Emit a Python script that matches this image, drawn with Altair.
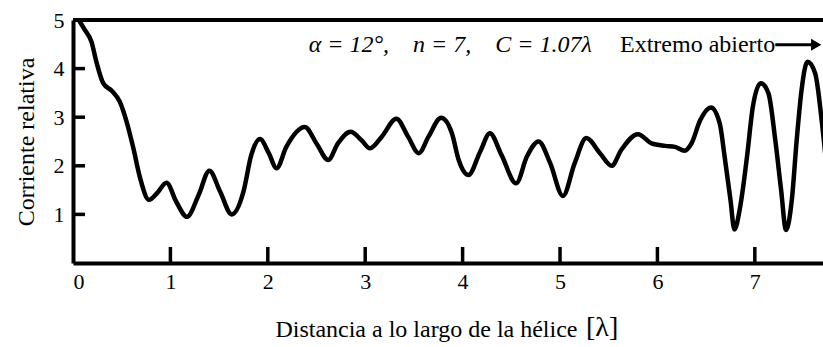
import altair as alt
import pandas as pd

# Relative current along the helix (distance in wavelengths)
dist = [0.06, 0.12, 0.19, 0.24, 0.31, 0.40, 0.48, 0.55, 0.62, 0.69,
        0.78, 0.86, 0.96, 1.06, 1.17, 1.29, 1.40, 1.51, 1.63, 1.75,
        1.83, 1.92, 2.01, 2.09, 2.19, 2.38, 2.50, 2.62, 2.72, 2.85,
        2.96, 3.05, 3.17, 3.32, 3.44, 3.55, 3.65, 3.78, 3.89, 3.96,
        4.06, 4.18, 4.28, 4.40, 4.55, 4.66, 4.78, 4.90, 5.03, 5.15,
        5.27, 5.41, 5.53, 5.63, 5.80, 5.94, 6.08, 6.18, 6.28, 6.35,
        6.44, 6.55, 6.64, 6.69, 6.75, 6.79, 6.85, 6.92, 6.98, 7.06,
        7.14, 7.21, 7.27, 7.32, 7.38, 7.43, 7.48, 7.54, 7.62, 7.69,
        7.74]
corr = [5.00, 4.80, 4.55, 4.14, 3.70, 3.54, 3.32, 2.91, 2.36, 1.74,
        1.30, 1.43, 1.65, 1.26, 0.95, 1.40, 1.90, 1.47, 1.00, 1.47,
        2.22, 2.55, 2.26, 1.95, 2.39, 2.80, 2.46, 2.12, 2.46, 2.70,
        2.53, 2.36, 2.60, 2.97, 2.60, 2.26, 2.60, 2.99, 2.67, 2.12,
        1.81, 2.29, 2.67, 2.22, 1.64, 2.19, 2.50, 2.05, 1.38, 2.05,
        2.57, 2.26, 2.00, 2.33, 2.65, 2.46, 2.41, 2.39, 2.31, 2.46,
        2.94, 3.20, 2.87, 2.19, 1.30, 0.69, 1.16, 2.19, 3.22, 3.70,
        3.49, 2.53, 1.50, 0.68, 1.30, 2.53, 3.56, 4.14, 3.90, 2.87,
        1.90]

x_labels = [0, 1, 2, 3, 4, 5, 6, 7]
y_labels = [1, 2, 3, 4, 5]
x_ticks = [1, 2, 3, 4, 5, 6, 7]
y_ticks = [1, 2, 3, 4]
top_edge = [5]

params_text = ["α = 12°,\u2003n = 7,\u2003C = 1.07λ"]
params_pos = [2.42, 4.49]
open_end_text = ["Extremo abierto"]
open_end_pos = [7.21, 4.49]
arrow_x = [7.21, 7.60]
arrow_head = [7.63, 4.49]

x_title = "Distancia a lo largo de la hélice"
x_title_unit = ["[λ]"]

FONT = "Liberation Serif"
W, H = 750, 243

xs = alt.Scale(domain=[0, 7.7], nice=False, zero=False)
ys = alt.Scale(domain=[0, 5], nice=False)

curve_df = pd.DataFrame({"dist": dist, "corr": corr})

curve = alt.Chart(curve_df).mark_line(
    color="black", strokeWidth=4.5, interpolate="monotone", clip=True,
    strokeJoin="round", strokeCap="round"
).encode(
    x=alt.X("dist:Q", scale=xs, axis=alt.Axis(
        values=x_labels, format="d", ticks=False, grid=False,
        domainColor="black", domainWidth=4,
        labelFont=FONT, labelFontSize=22, labelColor="black", labelPadding=8,
        title=x_title,
        titleFont=FONT, titleFontSize=24, titleFontWeight="normal",
        titleColor="black", titleX=504, titleY=73, titleAlign="right",
        titleAnchor="start", titleBaseline="alphabetic",
    )),
    y=alt.Y("corr:Q", scale=ys, axis=alt.Axis(
        values=y_labels, format="d", ticks=False, grid=False,
        domainColor="black", domainWidth=4,
        labelFont=FONT, labelFontSize=22, labelColor="black", labelPadding=9,
        title="Corriente relativa",
        titleFont=FONT, titleFontSize=24, titleFontWeight="normal",
        titleColor="black", titlePadding=15,
    )),
)

# Bracketed unit of the x title, set larger than the title text
unit = alt.Chart(pd.DataFrame({"t": x_title_unit})).mark_text(
    align="left", baseline="alphabetic", font=FONT, fontSize=28, color="black"
).encode(
    x=alt.value(513), y=alt.value(H + 73), text="t:N"
)

# Inward tick marks
xtick = alt.Chart(pd.DataFrame({"dist": x_ticks})).mark_rule(
    color="black", strokeWidth=3.5
).encode(
    x=alt.X("dist:Q", scale=xs),
    y=alt.value(H), y2=alt.value(H - 16),
)
ytick = alt.Chart(pd.DataFrame({"corr": y_ticks})).mark_rule(
    color="black", strokeWidth=3.5
).encode(
    y=alt.Y("corr:Q", scale=ys),
    x=alt.value(0), x2=alt.value(12),
)

# Upper frame line
top = alt.Chart(pd.DataFrame({"corr": top_edge})).mark_rule(
    color="black", strokeWidth=4
).encode(
    y=alt.Y("corr:Q", scale=ys),
    x=alt.value(0), x2=alt.value(W),
)

params = alt.Chart(pd.DataFrame({
    "dist": [params_pos[0]], "corr": [params_pos[1]], "t": params_text
})).mark_text(
    align="left", baseline="middle", font=FONT, fontStyle="italic",
    fontSize=24, color="black"
).encode(
    x=alt.X("dist:Q", scale=xs),
    y=alt.Y("corr:Q", scale=ys),
    text="t:N",
)

open_end = alt.Chart(pd.DataFrame({
    "dist": [open_end_pos[0]], "corr": [open_end_pos[1]], "t": open_end_text
})).mark_text(
    align="right", baseline="middle", font=FONT, fontSize=24, color="black"
).encode(
    x=alt.X("dist:Q", scale=xs),
    y=alt.Y("corr:Q", scale=ys),
    text="t:N",
)

arrow_line = alt.Chart(pd.DataFrame({
    "dist": [arrow_x[0]], "x2": [arrow_x[1]], "corr": [open_end_pos[1]]
})).mark_rule(color="black", strokeWidth=3).encode(
    x=alt.X("dist:Q", scale=xs),
    x2="x2:Q",
    y=alt.Y("corr:Q", scale=ys),
)

arrow_tip = alt.Chart(pd.DataFrame({
    "dist": [arrow_head[0]], "corr": [arrow_head[1]]
})).mark_point(
    shape="triangle-right", filled=True, color="black", size=140, opacity=1
).encode(
    x=alt.X("dist:Q", scale=xs),
    y=alt.Y("corr:Q", scale=ys),
)

chart = alt.layer(
    curve, xtick, ytick, top, params, open_end, arrow_line, arrow_tip, unit
).properties(
    width=W, height=H,
    autosize=alt.AutoSizeParams(type="none"),
    padding={"left": 73, "top": 20, "right": 0, "bottom": 84},
    background="white",
).configure_view(stroke=None)

chart.save("out.html", embed_options={"renderer": "svg", "actions": False})
